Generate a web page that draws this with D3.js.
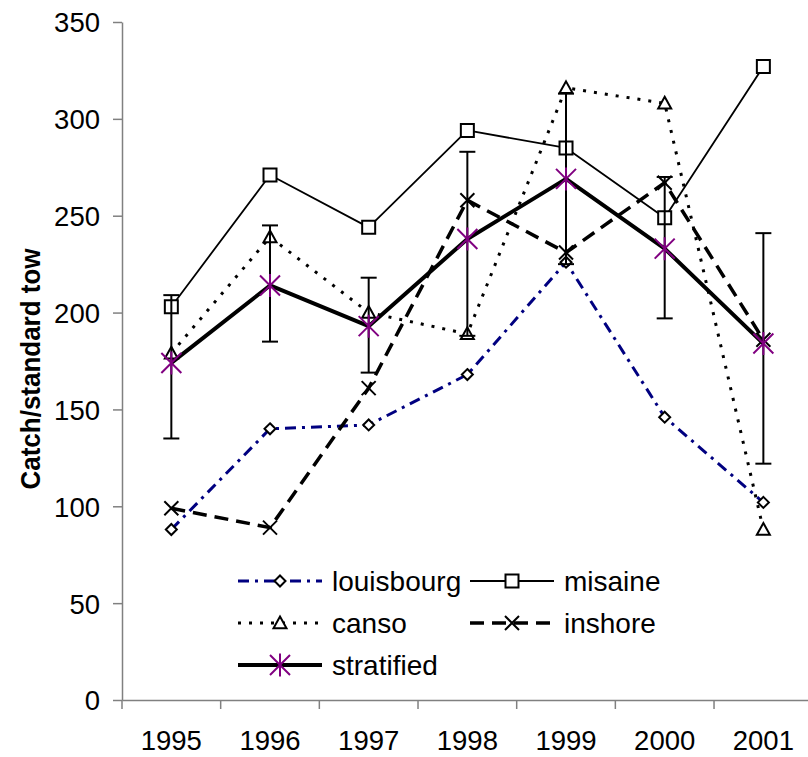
<!DOCTYPE html>
<html>
<head>
<meta charset="utf-8">
<script src="https://cdn.jsdelivr.net/npm/d3@7"></script>
<style>
  html, body { margin: 0; padding: 0; background: #fff; }
  svg { display: block; font-family: "Liberation Sans", Arial, sans-serif; }
</style>
</head>
<body>
<svg id="chart" width="808" height="757"></svg>
<script>
const years = ["1995", "1996", "1997", "1998", "1999", "2000", "2001"];
const louisbourg = [88, 140, 142, 168, 226, 146, 102];
const misaine = [203, 271, 244, 294, 285, 249, 327];
const canso = [179, 239, 200, 189, 316, 308, 88];
const inshore = [99, 89, 161, 258, 231, 267, 186];
const stratified = [174, 214, 193, 238, 269, 233, 184];
const errLow = [135, 185, 169, 188, 225, 197, 122];
const errHigh = [209, 245, 218, 283, 313, 270, 241];
const yTicks = [0, 50, 100, 150, 200, 250, 300, 350];
const yTitle = "Catch/standard tow";

const svg = d3.select("#chart");
const x = d3.scaleBand().domain(years).range([122, 812.7]);
const y = d3.scaleLinear().domain([0, 350]).range([700, 22]);
const cx = d => x(d) + x.bandwidth() / 2;

// axes
const axisColor = "#808080";
const yAxis = svg.append("g").attr("transform", "translate(122,0)")
  .call(d3.axisLeft(y).tickValues(yTicks).tickSize(9).tickPadding(13).tickSizeOuter(0));
const xAxis = svg.append("g").attr("transform", "translate(0,700)")
  .call(d3.axisBottom(x).tickSize(0).tickPadding(0).tickSizeOuter(0));
[yAxis, xAxis].forEach(g => {
  g.select(".domain").attr("stroke", axisColor).attr("stroke-width", 1.5);
  g.selectAll(".tick line").attr("stroke", axisColor).attr("stroke-width", 1.5);
  g.selectAll("text").attr("font-size", 27.5).attr("fill", "#000")
    .attr("font-family", "Liberation Sans, Arial, sans-serif");
});
yAxis.selectAll("text").attr("dy", "0.36em");
xAxis.selectAll("text").attr("dy", null).attr("y", 49.5);
// x ticks at band boundaries
const bounds = years.map(d => x(d)).concat([x(years[years.length - 1]) + x.bandwidth()]);
svg.append("g").selectAll("line").data(bounds).join("line")
  .attr("x1", d => d).attr("x2", d => d).attr("y1", 700).attr("y2", 709)
  .attr("stroke", axisColor).attr("stroke-width", 1.5);

// y title
svg.append("text")
  .attr("transform", "translate(40,369) rotate(-90)")
  .attr("text-anchor", "middle")
  .attr("font-size", 28.5).attr("font-weight", "bold")
  .attr("textLength", 241).attr("lengthAdjust", "spacingAndGlyphs")
  .text(yTitle);

// marker paths
function markerPath(type, s) {
  const h = s / 2;
  switch (type) {
    case "square": return `M${-h},${-h}H${h}V${h}H${-h}Z`;
    case "diamond": return `M0,${-h}L${h},0L0,${h}L${-h},0Z`;
    case "triangle": return `M0,${-h}L${h},${h * 0.8}H${-h}Z`;
    case "x": return `M${-h},${-h}L${h},${h}M${h},${-h}L${-h},${h}`;
    case "star": return `M${-h},${-h}L${h},${h}M${h},${-h}L${-h},${h}M0,${-h * 1.15}V${h * 1.15}`;
  }
}

const series = [
  { name: "louisbourg", values: louisbourg, color: "#000080", width: 3, dash: "11,6,3,6", marker: "diamond", msize: 11, mstroke: "#000", mfill: "#fff", mw: 2 },
  { name: "misaine", values: misaine, color: "#000", width: 1.8, dash: null, marker: "square", msize: 13, mstroke: "#000", mfill: "#fff", mw: 2 },
  { name: "canso", values: canso, color: "#000", width: 3, dash: "3,8", marker: "triangle", msize: 13, mstroke: "#000", mfill: "#fff", mw: 2 },
  { name: "inshore", values: inshore, color: "#000", width: 3.5, dash: "14,8", marker: "x", msize: 14, mstroke: "#000", mfill: "none", mw: 2 },
  { name: "stratified", values: stratified, color: "#000", width: 4, dash: null, marker: "star", msize: 20, mstroke: "#800080", mfill: "none", mw: 2 }
];

const line = d3.line().x((d, i) => cx(years[i])).y(d => y(d));

series.forEach(s => {
  const g = svg.append("g");
  g.append("path").attr("d", line(s.values)).attr("fill", "none")
    .attr("stroke", s.color).attr("stroke-width", s.width)
    .attr("stroke-dasharray", s.dash).attr("stroke-linejoin", "round");
  if (s.name === "stratified") {
    const eb = svg.append("g");
    years.forEach((yr, i) => {
      const xc = cx(yr);
      eb.append("line").attr("x1", xc).attr("x2", xc).attr("y1", y(errLow[i])).attr("y2", y(errHigh[i]))
        .attr("stroke", "#000").attr("stroke-width", 2);
      [errLow[i], errHigh[i]].forEach(v => {
        eb.append("line").attr("x1", xc - 8).attr("x2", xc + 8).attr("y1", y(v)).attr("y2", y(v))
          .attr("stroke", "#000").attr("stroke-width", 2);
      });
    });
  }
  svg.append("g").selectAll("path").data(s.values).join("path")
    .attr("transform", (d, i) => `translate(${cx(years[i])},${y(d)})`)
    .attr("d", markerPath(s.marker, s.msize))
    .attr("fill", s.mfill).attr("stroke", s.mstroke).attr("stroke-width", s.mw);
});

// legend
const legendPos = [
  { name: "louisbourg", x: 238, y: 581 },
  { name: "misaine", x: 470, y: 581 },
  { name: "canso", x: 238, y: 623 },
  { name: "inshore", x: 470, y: 623 },
  { name: "stratified", x: 238, y: 665 }
];
const lg = svg.append("g");
legendPos.forEach(p => {
  const s = series.find(d => d.name === p.name);
  const len = 84;
  lg.append("line").attr("x1", p.x).attr("x2", p.x + len).attr("y1", p.y).attr("y2", p.y)
    .attr("stroke", s.color).attr("stroke-width", s.width).attr("stroke-dasharray", s.dash);
  lg.append("path").attr("transform", `translate(${p.x + len / 2},${p.y})`)
    .attr("d", markerPath(s.marker, s.msize))
    .attr("fill", s.mfill).attr("stroke", s.mstroke).attr("stroke-width", s.mw);
  lg.append("text").attr("x", p.x + len + 10).attr("y", p.y + 10)
    .attr("font-size", 28).text(s.name);
});
</script>
</body>
</html>
